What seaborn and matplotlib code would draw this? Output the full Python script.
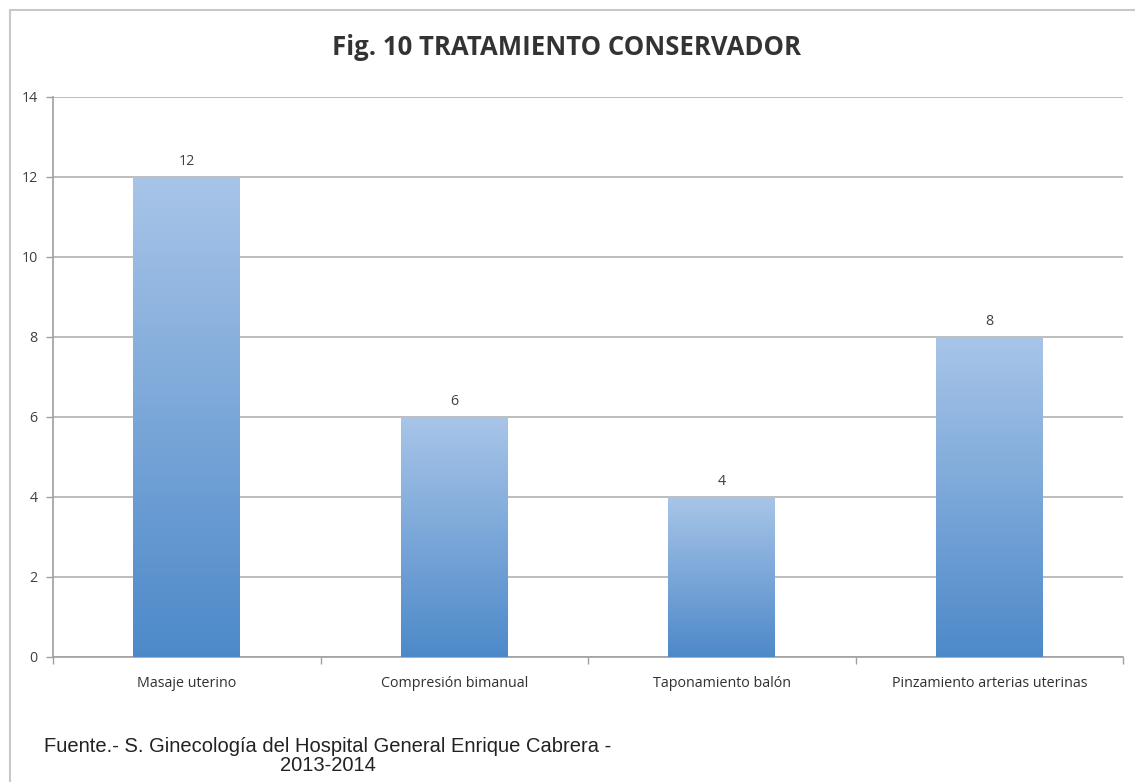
import numpy as np
import pandas as pd
import matplotlib
matplotlib.use("Agg")
import matplotlib.pyplot as plt
from matplotlib.colors import LinearSegmentedColormap
from matplotlib.lines import Line2D
import seaborn as sns

categories = ["Masaje uterino", "Compresión bimanual", "Taponamiento balón",
              "Pinzamiento arterias uterinas"]
values = [12, 6, 4, 8]
y_ticks = [0, 2, 4, 6, 8, 10, 12, 14]
title = "Fig. 10 TRATAMIENTO CONSERVADOR"
source = "Fuente.- S. Ginecología del Hospital General Enrique Cabrera -\n2013-2014"

sns.set_theme(style="white")
plt.rcParams["font.family"] = ["Open Sans", "DejaVu Sans"]

df = pd.DataFrame({"cat": categories, "val": values})

W, H = 1135, 782
fig = plt.figure(figsize=(W / 100, H / 100), dpi=100)
ax = fig.add_axes([53 / W, 1 - 657 / H, (1123 - 53) / W, (657 - 97) / H])

sns.barplot(data=df, x="cat", y="val", ax=ax, color="#6a9ad4", width=0.4,
            saturation=1, edgecolor="none", zorder=3)

# vertical gradient fill for each bar
cmap = LinearSegmentedColormap.from_list("bar_grad", ["#4d89c9", "#a8c5e8"])
grad = np.linspace(0, 1, 256).reshape(-1, 1)
for p in ax.patches:
    x0, y0 = p.get_x(), p.get_y()
    w, h = p.get_width(), p.get_height()
    im = ax.imshow(grad, cmap=cmap, origin="lower", aspect="auto",
                   extent=(x0, x0 + w, y0, y0 + h), zorder=4)
    im.set_clip_path(p)

ax.set_xlim(-0.5, len(categories) - 0.5)
ax.set_ylim(0, 14)
ax.set_yticks(y_ticks)
ax.set_yticklabels([str(t) for t in y_ticks], fontsize=10.3, color="#404040")
ax.set_xticks(range(len(categories)))
ax.set_xticklabels(categories, fontsize=10.3, color="#303030")
ax.tick_params(axis="x", length=0, pad=14)
ax.tick_params(axis="y", length=5, width=1, color="#a0a0a0", pad=6, left=True)
ax.set_xticks(np.arange(-0.5, len(categories), 1.0), minor=True)
ax.tick_params(axis="x", which="minor", length=5, width=1, color="#a0a0a0", bottom=True)
ax.set_xlabel("")
ax.set_ylabel("")

ax.grid(axis="y", color="#b8b8b8", linewidth=1.3, zorder=0)
ax.set_axisbelow(True)
for side in ["top", "right"]:
    ax.spines[side].set_visible(False)
ax.spines["left"].set_color("#a0a0a0")
ax.spines["bottom"].set_color("#a0a0a0")
ax.spines["left"].set_linewidth(1.2)
ax.spines["bottom"].set_linewidth(1.2)

for i, v in enumerate(values):
    ax.text(i, v + 0.38, str(v), ha="center", va="center", fontsize=10.3, color="#404040")

fig.text(566 / W, 1 - 47.5 / H, title, ha="center", va="center",
         fontsize=18.5, fontweight="bold", color="#333333")

fig.text(328 / W, 1 - 756 / H, source, ha="center", va="center",
         fontsize=14.5, color="#222222", family=["Liberation Sans", "DejaVu Sans"],
         linespacing=1.05)

# outer frame of the chart area: top and left edges
frame_kw = dict(transform=fig.transFigure, color="#c8c8c8", linewidth=1.5)
fig.add_artist(Line2D([10 / W, 1.0], [1 - 10 / H, 1 - 10 / H], **frame_kw))
fig.add_artist(Line2D([10 / W, 10 / W], [0.0, 1 - 10 / H], **frame_kw))

fig.savefig("out.png", dpi=100)
